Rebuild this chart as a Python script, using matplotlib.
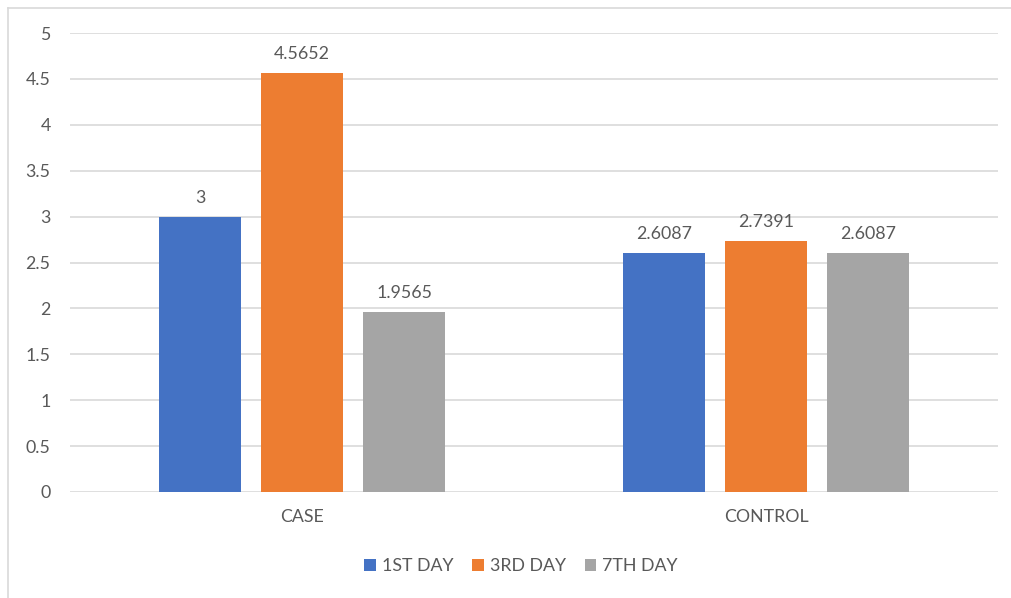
import matplotlib
matplotlib.use('Agg')
import matplotlib.pyplot as plt
from matplotlib.patches import Patch
from matplotlib.lines import Line2D
import numpy as np

groups = ['CASE', 'CONTROL']
series = ['1ST DAY', '3RD DAY', '7TH DAY']
values = [
    [3, 2.6087],
    [4.5652, 2.7391],
    [1.9565, 2.6087],
]
labels = [
    ['3', '2.6087'],
    ['4.5652', '2.7391'],
    ['1.9565', '2.6087'],
]
colors = ['#4472C4', '#ED7D31', '#A5A5A5']
yticks = [0, 0.5, 1, 1.5, 2, 2.5, 3, 3.5, 4, 4.5, 5]
ytick_labels = ['0', '0.5', '1', '1.5', '2', '2.5', '3', '3.5', '4', '4.5', '5']

plt.rcParams['font.family'] = ['Lato', 'DejaVu Sans']
text_color = '#595959'
fs = 12.8

W, H = 1012, 598
fig = plt.figure(figsize=(W / 100, H / 100), dpi=100)
ax = fig.add_axes([70 / W, 1 - 492 / H, (998 - 70) / W, (492 - 33) / H])

x = np.arange(len(groups))
width = 0.175
step = 0.22
for i, s in enumerate(series):
    pos = x + (i - 1) * step
    bars = ax.bar(pos, values[i], width, color=colors[i], zorder=3)
    for b, lab in zip(bars, labels[i]):
        ax.text(b.get_x() + b.get_width() / 2, b.get_height() + 0.12, lab,
                ha='center', va='bottom', fontsize=fs, color=text_color)

ax.set_xlim(-0.5, 1.5)
ax.set_ylim(0, 5)
ax.set_yticks(yticks)
ax.set_yticklabels(ytick_labels)
ax.set_xticks(x)
ax.set_xticklabels(groups)
ax.tick_params(axis='both', length=0, labelsize=fs, colors=text_color)
ax.tick_params(axis='x', pad=12)
ax.tick_params(axis='y', pad=14)
ax.grid(axis='y', color='#D9D9D9', linewidth=1.2, zorder=0)
for sp in ax.spines.values():
    sp.set_visible(False)

handles = [Patch(facecolor=c, label=s) for c, s in zip(colors, series)]
leg = fig.legend(handles=handles, loc='center', bbox_to_anchor=(521 / W, 1 - 566 / H),
                 ncol=3, frameon=False, fontsize=fs, handlelength=0.65, handleheight=0.65,
                 handletextpad=0.35, columnspacing=1.05)
for t in leg.get_texts():
    t.set_color(text_color)

# outer chart border (left and top visible)
fig.add_artist(Line2D([8 / W, 8 / W], [0, 1 - 8 / H], color='#D9D9D9', linewidth=1.2))
fig.add_artist(Line2D([8 / W, 1], [1 - 8 / H, 1 - 8 / H], color='#D9D9D9', linewidth=1.2))

fig.savefig('out.png', dpi=100)
